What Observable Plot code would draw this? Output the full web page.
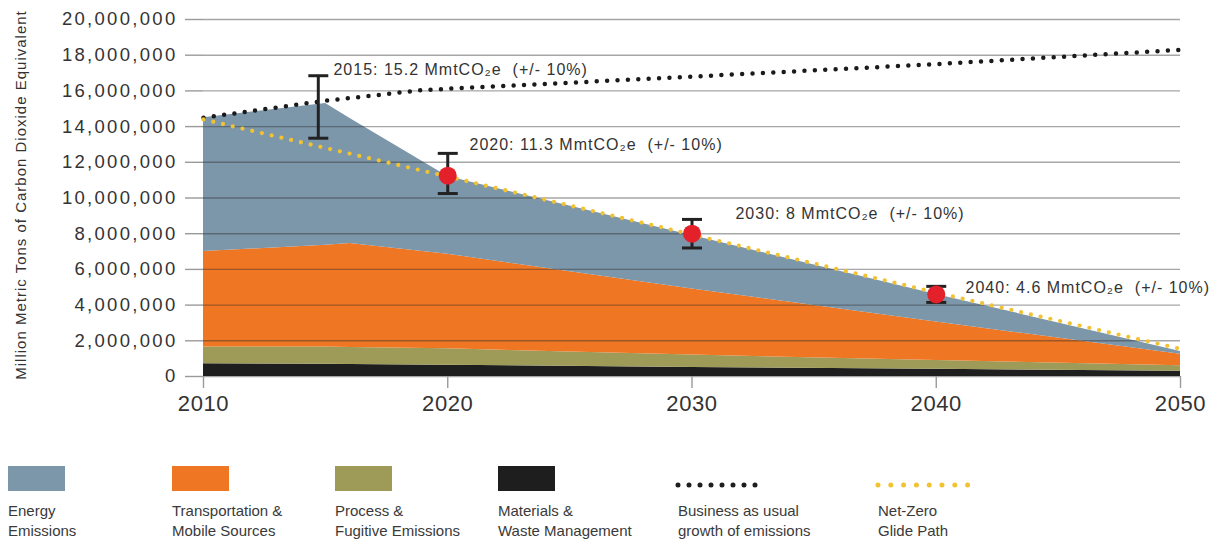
<!DOCTYPE html>
<html><head><meta charset="utf-8">
<script src="https://cdn.jsdelivr.net/npm/d3@7"></script>
<script src="https://cdn.jsdelivr.net/npm/@observablehq/plot@0.6"></script>
<style>
body{margin:0;background:#fff;font-family:"Liberation Sans",Arial,sans-serif;color:#333}
#wrap{position:relative;width:1217px;height:544px;overflow:hidden}
#chart{position:absolute;left:0;top:0}
.sw{position:absolute;width:57px;height:25px}
.lt{position:absolute;font-size:15px;line-height:20px;color:#3a3a3a;white-space:nowrap}
.ld{position:absolute}
</style></head><body>
<div id="wrap"><div id="chart"></div><div id="legend"></div></div>
<script>
// ---- data (values in million metric tons CO2e) ----
const years = [2010, 2015, 2016, 2020, 2030, 2040, 2050];
const seriesNames = ["Materials & Waste Management", "Process & Fugitive Emissions", "Transportation & Mobile Sources", "Energy Emissions"];
const materials = [0.72, 0.68, 0.67, 0.63, 0.50, 0.40, 0.30];
const process   = [0.93, 0.97, 0.96, 0.92, 0.70, 0.50, 0.30];
const transport = [5.35, 5.70, 5.82, 5.30, 3.70, 2.15, 0.65];
const energy    = [7.50, 7.95, 7.01, 4.35, 3.00, 1.55, 0.15];
const seriesColors = ["#1e1e1e", "#9e9a57", "#ef7622", "#7c96aa"];

const bauYears  = [2010, 2015, 2019, 2030, 2040, 2050];
const bauValues = [14.5, 15.45, 16.05, 16.8, 17.5, 18.3];
const glideYears  = [2010, 2020, 2030, 2040, 2050];
const glideValues = [14.4, 11.2, 7.95, 4.7, 1.55];

const errYears = [2014.7, 2020, 2030, 2040];
const errLow   = [13.35, 10.25, 7.2, 4.15];
const errHigh  = [16.85, 12.5, 8.8, 5.05];
const targetYears  = [2020, 2030, 2040];
const targetValues = [11.25, 8.0, 4.6];

const labelTexts  = ["2015: 15.2 MmtCO\u2082e \u00a0(+/- 10%)", "2020: 11.3 MmtCO\u2082e \u00a0(+/- 10%)", "2030: 8 MmtCO\u2082e \u00a0(+/- 10%)", "2040: 4.6 MmtCO\u2082e \u00a0(+/- 10%)"];
const labelYears  = [2015.32, 2020.89, 2031.78, 2041.2];
const labelValues = [17.2, 13.0, 9.13, 4.99];

const xTicks = [2010, 2020, 2030, 2040, 2050];
const yTicks = [0, 2, 4, 6, 8, 10, 12, 14, 16, 18, 20];
const yLabel = "Million Metric Tons of Carbon Dioxide Equivalent";

const legendLabels = [["Energy","Emissions"],["Transportation &","Mobile Sources"],["Process &","Fugitive Emissions"],["Materials &","Waste Management"],["Business as usual","growth of emissions"],["Net-Zero","Glide Path"]];
const legendColors = ["#7c96aa", "#ef7622", "#9e9a57", "#1e1e1e", "#1e1e1e", "#f1c232"];
const legendKinds  = ["box","box","box","box","dots","dots"];

// ---- tables ----
const seriesValues = [materials, process, transport, energy];
const areaData = [];
seriesNames.forEach((s, i) => years.forEach((y, j) => areaData.push({series: s, year: y, value: seriesValues[i][j]})));
const bau = bauYears.map((y, i) => ({year: y, value: bauValues[i]}));
const glide = glideYears.map((y, i) => ({year: y, value: glideValues[i]}));
const errs = errYears.map((y, i) => ({year: y, lo: errLow[i], hi: errHigh[i]}));
const targets = targetYears.map((y, i) => ({year: y, value: targetValues[i]}));
const labels = labelTexts.map((t, i) => ({text: t, year: labelYears[i], value: labelValues[i]}));

const capSymbol = {draw(ctx, size) { const w = Math.sqrt(size / Math.PI); ctx.moveTo(-w, 0); ctx.lineTo(w, 0); }};
const fmt = d3.format(",");

const chart = Plot.plot({
  width: 1217, height: 430,
  marginLeft: 203, marginRight: 37, marginTop: 19, marginBottom: 54,
  style: {fontFamily: "'Liberation Sans', Arial, sans-serif", color: "#333", background: "transparent"},
  x: {domain: [2010, 2050], label: null},
  y: {domain: [0, 20], label: null},
  color: {domain: seriesNames, range: seriesColors},
  marks: [
    Plot.areaY(areaData, {x: "year", y: "value", fill: "series", order: seriesNames, curve: "linear"}),
    Plot.gridY(yTicks, {stroke: "#2a2a2a", strokeOpacity: 0.42, strokeWidth: 1.4}),
    Plot.axisY(yTicks, {tickSize: 18, tickPadding: 8, tickFormat: d => fmt(d * 1e6), fontSize: 18.5, stroke: "#9a9a9a", strokeWidth: 1.4, fill: "#333", label: null}),
    Plot.axisX(xTicks, {tickSize: 12, tickPadding: 7, tickFormat: d => String(d), fontSize: 22, stroke: "#9a9a9a", strokeWidth: 1.4, fill: "#333", label: null}),
    Plot.text([yLabel], {frameAnchor: "left", textAnchor: "middle", rotate: -90, dx: -182, dy: -3, fontSize: 15, fill: "#333"}),
    Plot.line(bau, {x: "year", y: "value", stroke: "#1a1a1a", strokeWidth: 4.5, strokeDasharray: "0 10.4", strokeLinecap: "round"}),
    Plot.line(glide, {x: "year", y: "value", stroke: "#f1c232", strokeWidth: 4.3, strokeDasharray: "0 10", strokeLinecap: "round"}),
    Plot.ruleX(errs, {x: "year", y1: "lo", y2: "hi", stroke: "#222", strokeWidth: 3}),
    Plot.dot(errs, {x: "year", y: "lo", r: 10, symbol: capSymbol, fill: "none", stroke: "#222", strokeWidth: 3}),
    Plot.dot(errs, {x: "year", y: "hi", r: 10, symbol: capSymbol, fill: "none", stroke: "#222", strokeWidth: 3}),
    Plot.dot(targets, {x: "year", y: "value", r: 9, fill: "#e4202a"}),
    Plot.text(labels, {x: "year", y: "value", text: "text", textAnchor: "start", lineAnchor: "middle", fontSize: 16, fill: "#333"})
  ]
});
document.getElementById("chart").appendChild(chart);
const svg = d3.select(chart);
svg.selectAll('g[aria-label="y-axis tick label"] text').style("letter-spacing", "2.3px");
svg.selectAll('g[aria-label="text"] text').style("letter-spacing", "1px");
svg.selectAll('g[aria-label="x-axis tick label"] text').style("letter-spacing", "0.6px");

// ---- legend ----
const legendX = [8, 172, 335, 498, 678, 878];
const leg = d3.select("#legend");
legendLabels.forEach((lines, i) => {
  if (legendKinds[i] === "box") {
    leg.append("div").attr("class", "sw").style("left", legendX[i] + "px").style("top", "466px").style("background", legendColors[i]);
  } else {
    const s = leg.append("svg").attr("class", "ld").attr("width", 100).attr("height", 10)
      .style("left", legendX[i] - 3 + "px").style("top", "480px");
    s.append("line").attr("x1", 3).attr("x2", i === 4 ? 81 : 93).attr("y1", 5).attr("y2", 5)
      .attr("stroke", legendColors[i]).attr("stroke-width", 5).attr("stroke-linecap", "round")
      .attr("stroke-dasharray", i === 4 ? "0 11" : "0 12.8");
  }
  lines.forEach((t, k) => {
    leg.append("div").attr("class", "lt").style("left", legendX[i] + "px").style("top", (501 + k * 20) + "px").text(t);
  });
});
</script>
</body></html>
